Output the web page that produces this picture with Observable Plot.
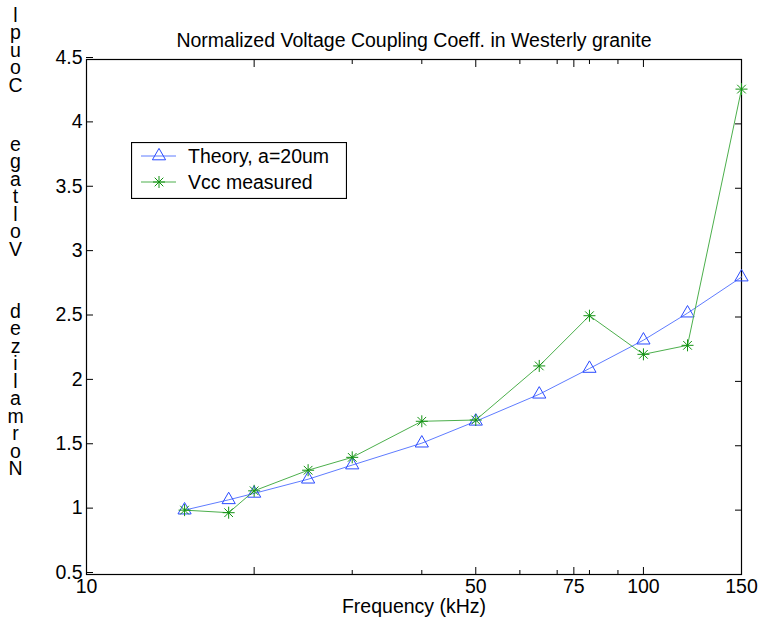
<!DOCTYPE html>
<html>
<head>
<meta charset="utf-8">
<script src="https://cdn.jsdelivr.net/npm/d3@7"></script>
<script src="https://cdn.jsdelivr.net/npm/@observablehq/plot@0.6"></script>
<style>
  html, body { margin: 0; padding: 0; background: #fff; }
  #wrap { position: relative; width: 760px; height: 631px; font-family: "Liberation Sans", Arial, Helvetica, sans-serif; }
  #legend { position: absolute; left: 131px; top: 142px; }
</style>
</head>
<body>
<div id="wrap"></div>
<script>
// ---- data ----
const freq = [15, 18, 20, 25, 30, 40, 50, 65, 80, 100, 120, 150];
const theory = [1.00, 1.08, 1.13, 1.24, 1.35, 1.52, 1.69, 1.90, 2.10, 2.32, 2.53, 2.81];
const vcc = [1.00, 0.98, 1.15, 1.31, 1.41, 1.69, 1.70, 2.12, 2.51, 2.21, 2.28, 4.27];
const seriesNames = ["Theory, a=20um", "Vcc measured"];
const xTickLabels = [10, 50, 75, 100, 150];
const xMajorTicks = [20, 50, 75, 100];
const xMinorTicks = [30, 40, 60, 70, 80, 90];
const yTicks = [0.5, 1, 1.5, 2, 2.5, 3, 3.5, 4, 4.5];
const title = "Normalized Voltage Coupling Coeff. in Westerly granite";
const xLabel = "Frequency (kHz)";
const yLabelGroups = ["l\np\nu\no\nC", "e\ng\na\nt\nl\no\nV", "d\ne\nz\ni\nl\na\nm\nr\no\nN"];

const FONT = "Liberation Sans, Arial, Helvetica, sans-serif";
const FS = 19.5;
const blueLine = "#5f7cff", blueMark = "#2a4bff";
const greenLine = "#4caf4c", greenMark = "#129212";

const theoryData = freq.map((f, i) => ({f, v: theory[i]}));
const vccData = freq.map((f, i) => ({f, v: vcc[i]}));

// MATLAB-style '*' marker (8 rays)
const star = {
  draw(ctx, size) {
    const r = Math.sqrt(size / Math.PI);
    const d = r * 0.72;
    ctx.moveTo(0, -r); ctx.lineTo(0, r);
    ctx.moveTo(-r, 0); ctx.lineTo(r, 0);
    ctx.moveTo(-d, -d); ctx.lineTo(d, d);
    ctx.moveTo(-d, d); ctx.lineTo(d, -d);
  }
};

const STEP = 17.5;
const groupTop = [9, 9 + 4 * STEP + 59, 9 + 4 * STEP + 59 + 6 * STEP + 62];

const chart = Plot.plot({
  width: 760,
  height: 631,
  marginLeft: 86,
  marginRight: 19,
  marginTop: 59,
  marginBottom: 57,
  style: {fontFamily: FONT, fontSize: FS + "px", color: "black", background: "white"},
  x: {type: "log", domain: [10, 150]},
  y: {type: "linear", domain: [0.5, 4.5]},
  marks: [
    // y axis: labels + inward ticks both sides
    Plot.axisY({anchor: "left", ticks: yTicks, tickSize: -7, tickPadding: 11, dy: -2, tickFormat: d => String(d), fontSize: FS, label: null, stroke: "black"}),
    Plot.axisY({anchor: "right", ticks: yTicks, tickSize: -7, tickFormat: () => "", label: null, stroke: "black"}),
    // x axis: labels
    Plot.axisX({anchor: "bottom", ticks: xTickLabels, tickSize: 0, tickPadding: 5, tickFormat: d => String(d), fontSize: FS, label: null}),
    // x ticks inward, bottom and top
    Plot.axisX({anchor: "bottom", ticks: xMajorTicks, tickSize: -7, tickFormat: () => "", label: null, stroke: "black"}),
    Plot.axisX({anchor: "bottom", ticks: xMinorTicks, tickSize: -4, tickFormat: () => "", label: null, stroke: "black"}),
    Plot.axisX({anchor: "top", ticks: xMajorTicks, tickSize: -7, tickFormat: () => "", label: null, stroke: "black"}),
    Plot.axisX({anchor: "top", ticks: xMinorTicks, tickSize: -4, tickFormat: () => "", label: null, stroke: "black"}),
    Plot.frame({stroke: "black", strokeWidth: 1.2}),
    // series
    Plot.line(theoryData, {x: "f", y: "v", stroke: blueLine, strokeWidth: 1}),
    Plot.dot(theoryData, {x: "f", y: "v", symbol: "triangle", r: 4.9, stroke: blueMark, fill: "none", strokeWidth: 1}),
    Plot.line(vccData, {x: "f", y: "v", stroke: greenLine, strokeWidth: 1}),
    Plot.dot(vccData, {x: "f", y: "v", symbol: star, r: 6, stroke: greenMark, fill: "none", strokeWidth: 1}),
    // title & x label
    Plot.text([title], {frameAnchor: "top", dy: -26, fontSize: FS, fill: "black"}),
    Plot.text([xLabel], {frameAnchor: "bottom", dy: 38, fontSize: FS, fill: "black"}),
    // stacked y label
    ...yLabelGroups.map((g, i) => Plot.text([g], {
      frameAnchor: "top-left", dx: -71, dy: groupTop[i] - 59, lineAnchor: "top",
      lineHeight: STEP / FS, textAnchor: "middle", fontSize: FS, fill: "black"
    }))
  ]
});
document.getElementById("wrap").appendChild(chart);

// legend
const lg = d3.select("#wrap").append("svg").attr("id", "legend")
  .attr("width", 216).attr("height", 57)
  .style("font-family", FONT).style("font-size", FS + "px");
lg.append("rect").attr("x", 0.5).attr("y", 0.5).attr("width", 215).attr("height", 56)
  .attr("fill", "white").attr("stroke", "black").attr("stroke-width", 1.2);
const rows = [
  {name: seriesNames[0], line: blueLine, mark: blueMark, sym: d3.symbolTriangle, r: 4.9, y: 14},
  {name: seriesNames[1], line: greenLine, mark: greenMark, sym: star, r: 6, y: 40}
];
rows.forEach(r => {
  lg.append("line").attr("x1", 10).attr("x2", 45).attr("y1", r.y).attr("y2", r.y)
    .attr("stroke", r.line).attr("stroke-width", 1);
  lg.append("path").attr("d", d3.symbol(r.sym, Math.PI * r.r * r.r)()).attr("transform", `translate(28,${r.y})`)
    .attr("fill", "none").attr("stroke", r.mark).attr("stroke-width", 1);
  lg.append("text").attr("x", 57).attr("y", r.y).attr("dy", "0.35em").attr("fill", "black").text(r.name);
});
</script>
</body>
</html>
